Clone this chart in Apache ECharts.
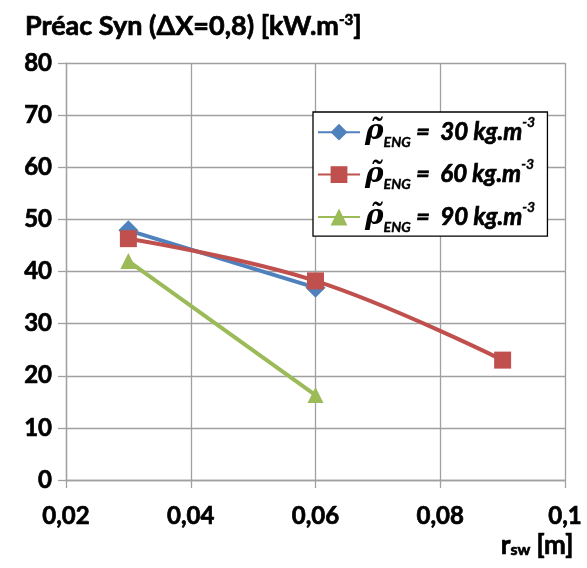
<!DOCTYPE html>
<html>
<head>
<meta charset="utf-8">
<script src="https://cdn.jsdelivr.net/npm/echarts@6/dist/echarts.min.js"></script>
<style>
html,body{margin:0;padding:0;background:#fff;}
#chart{width:587px;height:568px;}
</style>
</head>
<body>
<div id="chart"></div>
<script>
// ---- data ----
var xTicks = [0.02, 0.04, 0.06, 0.08, 0.1];
var yTicks = [0, 10, 20, 30, 40, 50, 60, 70, 80];
var seriesNames = ['30', '60', '90'];
var rsw30 = [0.03, 0.06];
var val30 = [47.9, 36.9];
var rsw60 = [0.03, 0.06, 0.09];
var val60 = [46.3, 38.2, 23.0];
var rsw90 = [0.03, 0.06];
var val90 = [42.0, 16.3];

function pairs(xs, ys) { return xs.map(function (x, i) { return [x, ys[i]]; }); }

var chart = echarts.init(document.getElementById('chart'));
var FONT = 'Lato';
var W = 'bold';
var gridColor = '#a0a0a0';
// faux-heavy stroke to approach the reference's heavy bold
var HB = { textBorderColor: '#000', textBorderWidth: 0.7 };
function heavy(o) { return Object.assign({}, HB, o); }

var option = {
  backgroundColor: '#ffffff',
  animation: false,
  title: [{
    text: 'Préac Syn (ΔX=0,8) [kW.m{sup|-3}]',
    left: 20, top: 8,
    textStyle: heavy({
      fontFamily: FONT, fontWeight: W, fontSize: 27, color: '#000',
      rich: { sup: heavy({ fontFamily: FONT, fontWeight: W, fontSize: 15, verticalAlign: 'top', color: '#000' }) }
    })
  }, {
    text: 'r{s|sw} [m]',
    right: 8, bottom: 4,
    textStyle: heavy({
      fontFamily: FONT, fontWeight: W, fontSize: 26, color: '#000',
      rich: { s: heavy({ fontFamily: FONT, fontWeight: W, fontSize: 16, verticalAlign: 'bottom', color: '#000' }) }
    })
  }],
  grid: { left: 66, right: 22, top: 63, bottom: 88, containLabel: false },
  legend: {
    left: 313, top: 112,
    orient: 'vertical',
    backgroundColor: '#fff',
    borderColor: '#000', borderWidth: 1.3,
    padding: [3, 12, 2, 4],
    itemWidth: 42, itemHeight: 21, itemGap: 8,
    data: seriesNames,
    formatter: function (n) {
      return '{r|ρ̃}{s|ENG}{t| =  ' + n + ' kg.m}{sup|-3}';
    },
    textStyle: {
      color: '#000',
      rich: {
        r: { fontFamily: 'DejaVu Serif', fontStyle: 'italic', fontWeight: 'bold', fontSize: 28, color: '#000', lineHeight: 34, verticalAlign: 'middle' },
        s: heavy({ fontFamily: FONT, fontStyle: 'italic', fontWeight: W, fontSize: 14, color: '#000', verticalAlign: 'bottom', lineHeight: 14, textBorderWidth: 0.4 }),
        t: heavy({ fontFamily: FONT, fontStyle: 'italic', fontWeight: W, fontSize: 24, color: '#000', verticalAlign: 'middle' }),
        sup: heavy({ fontFamily: FONT, fontStyle: 'italic', fontWeight: W, fontSize: 14, color: '#000', verticalAlign: 'top', lineHeight: 14, textBorderWidth: 0.4 })
      }
    }
  },
  xAxis: {
    type: 'value', min: 0.02, max: 0.1, interval: 0.02,
    axisLine: { show: true, lineStyle: { color: gridColor, width: 1.3 } },
    axisTick: { show: true, length: 8, lineStyle: { color: gridColor, width: 1.3 } },
    splitLine: { show: true, lineStyle: { color: gridColor, width: 1.3 } },
    axisLabel: heavy({
      margin: 24, color: '#000', fontFamily: FONT, fontWeight: W, fontSize: 24,
      formatter: function (v) { return String(+v.toFixed(2)).replace('.', ','); }
    })
  },
  yAxis: {
    type: 'value', min: 0, max: 80, interval: 10,
    axisLine: { show: true, lineStyle: { color: gridColor, width: 1.3 } },
    axisTick: { show: true, length: 8, lineStyle: { color: gridColor, width: 1.3 } },
    splitLine: { show: true, lineStyle: { color: gridColor, width: 1.3 } },
    axisLabel: heavy({ margin: 14, color: '#000', fontFamily: FONT, fontWeight: W, fontSize: 24 })
  },
  series: [{
    name: seriesNames[0], type: 'line', data: pairs(rsw30, val30),
    symbol: 'diamond', symbolSize: 20,
    lineStyle: { color: '#4F81BD', width: 4 },
    itemStyle: { color: '#4F81BD' }
  }, {
    name: seriesNames[1], type: 'line', data: pairs(rsw60, val60),
    symbol: 'rect', symbolSize: 17, smooth: 0.4,
    lineStyle: { color: '#C0504D', width: 4 },
    itemStyle: { color: '#C0504D' }
  }, {
    name: seriesNames[2], type: 'line', data: pairs(rsw90, val90),
    symbol: 'triangle', symbolSize: 16,
    lineStyle: { color: '#9BBB59', width: 4 },
    itemStyle: { color: '#9BBB59' }
  }]
};
chart.setOption(option);
</script>
</body>
</html>
